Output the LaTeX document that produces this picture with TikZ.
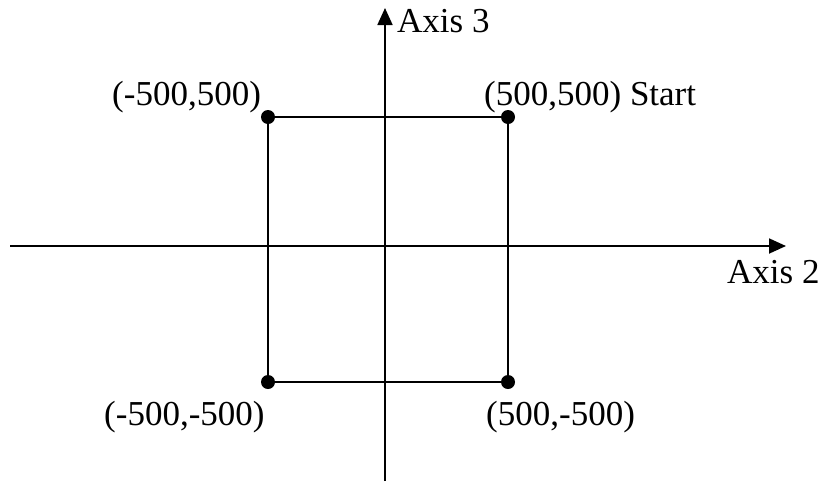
\documentclass[tikz,border=0pt]{standalone}
\usepackage{fontspec}
\setmainfont{Liberation Serif}
\usetikzlibrary{arrows.meta}
\begin{document}
\begin{tikzpicture}[x=1pt,y=-1pt,
  axisline/.style={line width=1.8pt,-{Triangle[width=15pt,length=17pt]}},
  edge/.style={line width=1.8pt},
  corner/.style={circle,fill=black,inner sep=0pt,minimum size=14pt},
  lbl/.style={inner sep=0pt,anchor=base west,font=\fontsize{35}{40}\selectfont}]
\useasboundingbox (0,0) rectangle (823,483);
\coordinate (xs) at (10,246);
\coordinate (xe) at (786,246);
\coordinate (ys) at (385,481);
\coordinate (ye) at (385,8);
\draw[axisline] (xs) -- (xe);
\draw[axisline] (ys) -- (ye);
\node[corner] (tl) at (268,117) {};
\node[corner] (tr) at (508,117) {};
\node[corner] (bl) at (268,382) {};
\node[corner] (br) at (508,382) {};
\draw[edge] (tl.center) -- (tr.center) -- (br.center) -- (bl.center) -- cycle;
\node[lbl] (a3) at (397,32) {Axis 3};
\node[lbl] (a2) at (727,283) {Axis 2};
\node[lbl] (ltl) at (112,105) {(-500,500)};
\node[lbl] (ltr) at (484,105) {(500,500) Start};
\node[lbl] (lbl1) at (104,425) {(-500,-500)};
\node[lbl] (lbr) at (486,425) {(500,-500)};
\end{tikzpicture}
\end{document}
